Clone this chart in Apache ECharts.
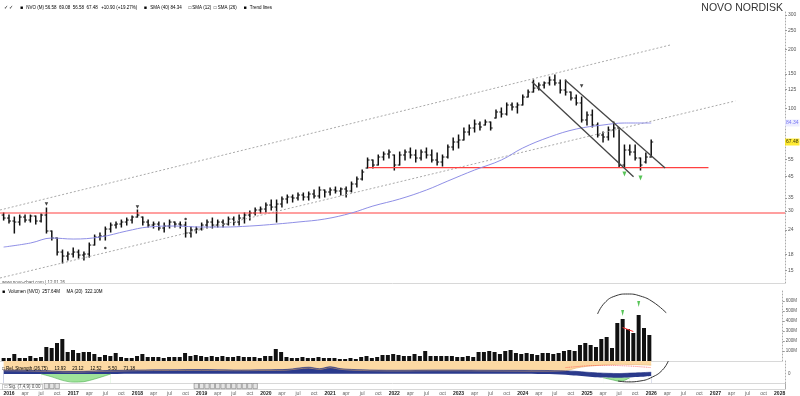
<!DOCTYPE html>
<html><head><meta charset="utf-8">
<script src="https://cdn.jsdelivr.net/npm/echarts@6/dist/echarts.min.js"></script>
<style>html,body{margin:0;padding:0;background:#fff}#c{width:800px;height:396px}</style>
</head><body><div id="c"></div>
<script>
// monthly bars, first bar = Dec 2015 (month index -1, Jan 2016 = 0)
const firstMonthIndex = -1;
const open = [28.64,27.65,26.70,26.38,27.97,27.01,28.31,26.70,28.64,23.74,21.87,18.55,17.70,18.12,18.55,17.91,18.12,20.14,22.12,22.39,24.30,25.47,25.77,26.38,27.01,27.97,27.97,26.38,25.47,25.77,24.59,25.17,26.38,25.77,25.47,23.19,24.02,24.30,25.47,26.38,25.47,26.38,25.77,27.33,26.38,27.65,28.64,29.33,30.38,30.73,32.21,31.46,32.59,34.57,35.39,34.98,36.23,35.39,36.66,35.81,38.42,37.53,38.42,37.97,38.87,37.97,41.22,43.71,49.73,54.63,51.51,56.58,58.61,57.93,51.51,57.93,60.00,57.93,55.93,60.00,57.93,54.63,53.36,56.58,63.63,67.48,69.08,75.88,79.53,83.35,82.38,85.33,89.44,95.96,93.73,104.2,101.8,104.2,114.4,121.3,127.1,131.7,134.9,139.7,134.9,124.2,121.3,113.1,106.7,87.36,92.64,82.38,73.26,71.56,77.69,79.53,51.51,61.43,60.00,55.93,53.36,56.58];
const high = [29.33,28.64,27.97,28.64,28.64,28.64,28.31,28.99,31.10,23.74,21.87,18.99,18.55,19.44,18.99,18.55,20.62,22.65,23.19,24.88,26.08,26.38,27.01,27.65,28.31,30.38,27.97,27.01,26.38,26.38,26.08,27.01,26.38,26.38,26.38,24.88,24.88,26.08,27.01,27.65,27.01,27.01,27.97,27.97,28.64,29.33,30.03,31.10,31.46,32.98,34.16,34.16,35.39,36.23,36.23,37.09,37.09,37.53,38.42,39.79,38.42,39.33,39.79,39.33,39.79,42.20,44.75,48.58,55.93,54.63,57.93,60.00,61.43,57.93,60.00,61.43,62.89,61.43,61.43,62.89,61.43,59.30,57.93,65.14,70.73,73.26,79.53,82.38,87.36,85.33,87.36,85.33,98.24,100.6,106.7,106.7,106.7,117.1,124.2,139.7,134.9,136.5,144.8,148.2,139.7,139.7,121.3,117.1,114.4,95.96,98.24,84.34,75.88,80.47,85.33,79.53,65.14,65.14,65.14,55.93,59.30,69.08];
const low = [27.01,26.08,23.19,25.47,26.38,26.38,25.77,26.38,23.19,21.36,17.91,16.31,16.89,17.49,17.29,16.89,17.49,20.14,21.36,21.36,23.46,24.59,24.88,25.47,26.08,27.97,25.47,24.88,24.59,24.02,23.46,24.59,24.88,24.59,22.12,22.12,23.19,24.02,24.59,24.59,24.88,24.88,25.47,25.47,25.47,26.08,27.01,28.64,29.33,29.67,30.38,26.38,31.46,32.98,33.37,34.16,34.16,34.16,34.98,34.98,35.39,36.23,37.09,36.23,35.39,37.53,39.79,43.20,49.73,49.73,51.51,54.63,55.93,48.58,51.51,54.63,55.93,53.36,54.63,55.93,53.36,51.51,50.91,55.93,61.43,62.89,69.08,73.26,75.88,77.69,82.38,77.69,89.44,90.49,92.64,98.24,94.84,104.2,114.4,121.3,124.2,127.1,131.7,131.7,119.9,117.1,110.5,104.2,85.33,82.38,80.47,71.56,67.48,69.08,71.56,50.31,50.31,57.93,54.63,48.58,52.74,56.58];
const close = [27.65,26.70,26.38,27.97,27.01,28.31,26.70,28.64,23.74,21.87,18.55,17.70,18.12,18.55,17.91,18.12,20.14,22.12,22.39,24.30,25.47,25.77,26.38,27.01,27.97,28.64,26.38,25.47,25.77,24.59,25.17,26.38,25.77,25.47,23.19,24.02,24.30,25.47,26.38,25.47,26.38,25.77,27.33,26.38,27.65,28.64,29.33,30.38,30.73,32.21,31.46,32.59,34.57,35.39,34.98,36.23,35.39,36.66,35.81,38.42,37.53,38.42,37.97,38.87,37.97,41.22,43.71,47.45,54.63,51.51,56.58,58.61,60.00,51.51,57.93,60.00,57.93,55.93,60.00,57.93,54.63,53.36,56.58,63.63,67.48,69.08,75.88,79.53,83.35,80.47,85.33,79.53,95.96,93.73,104.2,101.8,104.2,114.4,121.3,127.1,131.7,134.9,139.7,134.9,124.2,121.3,113.1,106.7,87.36,92.64,82.38,73.26,71.56,77.69,79.53,51.51,61.43,60.00,55.93,51.51,56.58,67.48];
// volume (millions)
const volume = [30,30,70,30,30,50,30,40,140,130,180,220,90,110,80,90,90,70,40,60,50,80,40,30,30,50,70,40,40,40,30,40,40,40,80,50,60,50,40,50,40,50,40,40,50,40,40,40,30,50,50,120,90,40,30,30,40,30,30,40,30,30,30,20,20,30,20,40,50,30,40,60,60,70,60,50,50,70,50,100,50,50,50,50,50,40,40,50,40,90,90,100,90,70,100,110,80,70,80,70,60,80,80,70,80,100,110,100,160,180,160,140,220,240,130,380,420,320,280,460,330,260];
// 40-month moving average (read at selected months)
const maMonths = [-1,4,8,12,17,22,26,31,36,40,45,50,54,59,64,68,73,78,82,87,92,96,101,106,111,115,120];
const maValues = [19.67,20.62,21.87,21.61,22.12,23.74,24.88,25.17,24.88,24.88,25.17,25.77,26.38,27.33,29.33,31.83,34.57,38.42,42.70,48.58,54.63,62.89,71.56,78.60,82.38,84.34,84.34];
// trend lines [month, price]
const upperChannel = [[-1.68,30.38],[123.55,210.7]];
const lowerChannel = [[-1.68,13.68],[135.7,109.2]];
const downTrendA = [[97.7,137.0],[116.7,44.9]];
const downTrendB = [[103.9,139.7],[122.6,49.7]];
const supportLong = {from:-1.68, to:145, price:29.33};
const supportShort = {from:67.1, to:130.7, price:50.0};
// signal markers
const blackDown = [[7,32.59],[24,31.46],[107,130.2]];
const blackDots = [[18,19.44],[33,27.33]];
const greenPrice = [[115,46.35],[118,44.23]];
const greenVolume = [[115,480],[118,570]];
const volMa = [[115,335],[116,315],[117,295]];
// annotation arcs
const arcUpper = [[110.3,470],[111.6,580],[113.6,650],[115.9,670],[118.3,650],[120.7,590],[123.2,480]];
const arcLower = [[123.2,100],[122.1,59],[120.2,27],[117.9,9],[115.7,5],[113.8,9]];
// relative strength panel (levels 0..100)
const rsMonths = [-1,3,7,9,11,13,15,17,19,24,30,36,42,48,52,56,58,60,62,66,72,80,90,100,104,106,108,110,112,114,116,118,120];
const rsOrange = [56,55,53,51,50,50,51,53,54,56,57,58,56,57,59,68,62,70,62,57,55,56,55,54,56,68,76,80,83,85,84,83,81];
const rsNavyTop = [59,58,56,54,53,53,54,56,57,59,60,61,59,60,62,72,65,74,65,60,58,59,58,57,55,53,49,46,44,43,45,47,49];
const rsNavyBottom = [41,41,41,41,41,41,41,41,41,42,42,42,42,42,42,42,42,42,42,42,42,42,42,41,38,34,30,26,24,23,25,28,32];
const greenAMonths = [6,8,10,12,14,16,18,19];
const greenATop = [41,41,41,41,41,41,41,41];
const greenABottom = [41,28,12,4,6,18,33,41];
const greenBMonths = [111,113,114,115,116];
const greenBTop = [24,24,24,24,24];
const greenBBottom = [24,13,8,12,24];
const rsRed = [[104,70],[108,78],[112,80],[116,77],[120,70]];
const signalMonths = [7,8,9,35,36,37,38,39,40,41,42,43,44,45,46];
const priceTicks = [15,18,24,30,35,45,55,100,125,150,200,250,300];
const volumeTicks = [100,200,300,400,500,600];
const quarterNames = ['apr','jul','oct'];

const chart = echarts.init(document.getElementById('c'), null, {renderer:'canvas'});
const n = close.length;
const ohlc = close.map((c,i)=>[firstMonthIndex+i, open[i], high[i], low[i], c]);
const volData = volume.map((v,i)=>[firstMonthIndex+i, v]);
const lastClose = close[n-1];
const lastMa = maValues[maValues.length-1];
const pairs = (xs, ys) => xs.map((x,i)=>[x, ys[i]]);
const xTicks = []; for (let m=0; m<=144; m+=3) xTicks.push(m);

const XMIN=-1.68, XMAX=145;
function xa(gi, extra){ return Object.assign({type:'value', gridIndex:gi, min:XMIN, max:XMAX,
  axisLabel:{show:false}, axisTick:{show:false}, splitLine:{show:false},
  axisLine:{show:true, onZero:false, lineStyle:{color:'#d8d8d8', width:1}}}, extra||{}); }
const fam = 'Liberation Sans, Arial, sans-serif';
const dottedAxis = {show:true, onZero:false, lineStyle:{color:'#aaa', type:[1,2]}};
function areaSeries(data, color, lineColor, origin){
  return {type:'line', xAxisIndex:2, yAxisIndex:2, data:data, symbol:'none', smooth:0.3, silent:true,
    lineStyle:{color:lineColor||color, width:lineColor?0.6:0}, areaStyle:{origin:origin||'start', color:color, opacity:1}};
}
function priceTag(value, bg, fg){
  return {type:'scatter', xAxisIndex:0, yAxisIndex:0, data:[[XMAX, value]], symbolSize:0, clip:false, silent:true,
    label:{show:true, position:'right', distance:0, formatter:()=>value.toFixed(2), backgroundColor:bg, color:fg,
      fontSize:5, padding:[1,1], fontFamily:fam}};
}

const option = {
  animation:false,
  backgroundColor:'#fff',
  textStyle:{fontFamily:fam},
  grid:[
    {left:0, right:15, top:10, height:273},
    {left:0, right:15, top:290, height:71},
    {left:0, right:15, top:361, height:22},
    {left:0, right:15, top:383, height:6}
  ],
  xAxis:[
    xa(0), xa(1), xa(2),
    xa(3, {axisLabel:{show:true, customValues:xTicks, fontSize:5, color:'#666', margin:2,
      formatter:(v)=>{ const m=Math.round(v); if (m%12===0) return '{y|'+(2016+m/12)+'}'; return quarterNames[(m%12)/3-1]; },
      rich:{y:{fontSize:5, color:'#222', fontWeight:'bold'}}}})
  ],
  yAxis:[
    {type:'log', gridIndex:0, position:'right', min:12.9, max:317.7, logBase:10,
      axisLine:dottedAxis,
      axisTick:{show:true, length:2, customValues:priceTicks, lineStyle:{color:'#999'}},
      axisLabel:{customValues:priceTicks, fontSize:5, color:'#555', margin:3, formatter:(v)=>String(Math.round(v))},
      splitLine:{show:false}},
    {type:'value', gridIndex:1, position:'right', min:0, max:710,
      axisLine:dottedAxis,
      axisTick:{show:true, length:2, customValues:volumeTicks, lineStyle:{color:'#999'}},
      axisLabel:{customValues:volumeTicks, fontSize:4.5, color:'#555', margin:3, formatter:(v)=>v+'M'},
      splitLine:{show:false}},
    {type:'value', gridIndex:2, position:'right', min:0, max:100,
      axisLine:dottedAxis, axisTick:{show:false},
      axisLabel:{customValues:[41], fontSize:4.5, color:'#555', margin:3, formatter:()=>'0'}, splitLine:{show:false}},
    {type:'value', gridIndex:3, position:'right', min:0, max:1, axisLine:{show:true, onZero:false, lineStyle:{color:'#aaa'}},
      axisTick:{show:false}, axisLabel:{show:false}, splitLine:{show:false}}
  ],
  graphic:[
    {type:'text', left:4, top:2, style:{text:'{g|✓ ✓}  {k|■} {t|NVO (M) 56.58  69.08  56.58  67.48} {gt|+10.90 (+19.27%)}  {b|■} {bt|SMA (40) 84.34}  {gr|□ SMA (12)  □ SMA (26)}  {k|■} {t|Trend lines}',
      rich:{g:{fontSize:4.5, color:'#2a2'}, k:{fontSize:5, color:'#000'}, t:{fontSize:4.5, color:'#555'}, gt:{fontSize:4.5, color:'#3a3'},
        b:{fontSize:5, color:'#33c'}, bt:{fontSize:4.5, color:'#55c'}, gr:{fontSize:4.5, color:'#999'}}}},
    {type:'text', right:17, top:3, style:{text:'NOVO NORDISK', fontSize:10.5, fill:'#333', fontFamily:fam}},
    {type:'text', left:2, top:280, style:{text:'www.novo-chart.com | 12.01.26', fontSize:4.5, fill:'#555'}},
    {type:'text', left:2, top:286, style:{text:'{k|■} {t|Volumen (NVO)  257.64M}  {t|MA (20)  322.10M}', rich:{t:{fontSize:4.5, color:'#555'}, k:{fontSize:5, color:'#000'}}}},
    {type:'text', left:2, top:363, z:100, style:{text:'{t|□ Rel. Strength (26,75)}  {g|13.93}  {c|23.12}  {b|12.52}  {o|5.50}  {r|71.18}', rich:{t:{fontSize:4.5, color:'#444'}, g:{fontSize:4.5,color:'#3a3'}, c:{fontSize:4.5,color:'#3aa'}, b:{fontSize:4.5,color:'#33a'}, o:{fontSize:4.5,color:'#c80'}, r:{fontSize:4.5,color:'#c33'}}}},
    {type:'text', left:2, top:384, z:100, style:{text:'□ Sig. (7,4,9) 0.00', fontSize:4.5, fill:'#444', backgroundColor:'#fff', borderColor:'#999', borderWidth:0.5, padding:[0,2]}}
  ],
  series:[
    {type:'line', xAxisIndex:0, yAxisIndex:0, data:upperChannel, symbol:'none', silent:true, lineStyle:{color:'#aaa', width:1, type:[2,2]}},
    {type:'line', xAxisIndex:0, yAxisIndex:0, data:lowerChannel, symbol:'none', silent:true, lineStyle:{color:'#aaa', width:1, type:[2,2]}},
    {type:'line', xAxisIndex:0, yAxisIndex:0, data:[[supportLong.from,supportLong.price],[supportLong.to,supportLong.price]], symbol:'none', lineStyle:{color:'#ff4040', width:1.2}},
    {type:'line', xAxisIndex:0, yAxisIndex:0, data:[[supportShort.from,supportShort.price],[supportShort.to,supportShort.price]], symbol:'none', lineStyle:{color:'#ff4040', width:1.2}},
    {type:'line', xAxisIndex:0, yAxisIndex:0, data:pairs(maMonths, maValues), symbol:'none', smooth:0.4, lineStyle:{color:'#8f8fe6', width:1}},
    {type:'line', xAxisIndex:0, yAxisIndex:0, data:downTrendA, symbol:'none', lineStyle:{color:'#444', width:1.3}},
    {type:'line', xAxisIndex:0, yAxisIndex:0, data:downTrendB, symbol:'none', lineStyle:{color:'#444', width:1.3}},
    {type:'custom', xAxisIndex:0, yAxisIndex:0, data:ohlc, encode:{x:0, y:[1,2,3,4]},
      renderItem:function(params, api){
        const x = api.value(0);
        const o = api.coord([x, api.value(1)]), h = api.coord([x, api.value(2)]),
              l = api.coord([x, api.value(3)]), c = api.coord([x, api.value(4)]);
        return {type:'group', children:[
          {type:'line', shape:{x1:h[0], y1:h[1]-0.5, x2:l[0], y2:l[1]+0.5}, style:{stroke:'#111', lineWidth:1.5}},
          {type:'line', shape:{x1:o[0]-2, y1:o[1], x2:o[0], y2:o[1]}, style:{stroke:'#111', lineWidth:1}},
          {type:'line', shape:{x1:c[0], y1:c[1], x2:c[0]+2, y2:c[1]}, style:{stroke:'#111', lineWidth:1}}
        ]};
      }},
    {type:'scatter', xAxisIndex:0, yAxisIndex:0, data:blackDown, symbol:'triangle', symbolRotate:180, symbolSize:3.5, itemStyle:{color:'#111'}},
    {type:'scatter', xAxisIndex:0, yAxisIndex:0, data:blackDots, symbol:'circle', symbolSize:2.5, itemStyle:{color:'#111'}},
    {type:'scatter', xAxisIndex:0, yAxisIndex:0, data:greenPrice, symbol:'triangle', symbolRotate:180, symbolSize:[4,5], itemStyle:{color:'#2db52d'}},
    priceTag(lastMa, '#e8e8ff', '#5a5af0'),
    priceTag(lastClose, '#ffe600', '#000'),
    // volume
    {type:'bar', xAxisIndex:1, yAxisIndex:1, data:volData, barWidth:4, itemStyle:{color:'#111'}},
    {type:'line', xAxisIndex:1, yAxisIndex:1, data:volMa, symbol:'none', lineStyle:{color:'#ff3030', width:1}},
    {type:'scatter', xAxisIndex:1, yAxisIndex:1, data:greenVolume, symbol:'triangle', symbolRotate:180, symbolSize:[3,6], itemStyle:{color:'#2db52d'}},
    {type:'line', xAxisIndex:1, yAxisIndex:1, data:arcUpper, symbol:'none', smooth:0.5, clip:false, lineStyle:{color:'#333', width:1}},
    // relative strength
    areaSeries(pairs(rsMonths, rsOrange), '#fcd9a3', '#e9b068', 'end'),
    areaSeries(pairs(rsMonths, rsNavyTop), '#2b3a8c', '#1f2d80', 'start'),
    areaSeries(pairs(rsMonths, rsNavyBottom), '#ffffff', null, 'start'),
    areaSeries(pairs(greenAMonths, greenATop), '#9fe39a', null, 'start'),
    areaSeries(pairs(greenAMonths, greenABottom), '#ffffff', '#4caf50', 'start'),
    areaSeries(pairs(greenBMonths, greenBTop), '#9fe39a', null, 'start'),
    areaSeries(pairs(greenBMonths, greenBBottom), '#ffffff', '#4caf50', 'start'),
    {type:'line', xAxisIndex:2, yAxisIndex:2, data:rsRed, symbol:'none', smooth:0.3, lineStyle:{color:'#ff5050', width:0.8, type:[1,1]}},
    {type:'line', xAxisIndex:2, yAxisIndex:2, data:arcLower, symbol:'none', smooth:0.5, clip:false, lineStyle:{color:'#333', width:1}},
    // signal panel
    {type:'bar', xAxisIndex:3, yAxisIndex:3, data:signalMonths.map(m=>[m,1]), barWidth:5,
      itemStyle:{color:'#e4e4e4', borderColor:'#777', borderWidth:0.6}}
  ]
};
chart.setOption(option);
</script></body></html>
